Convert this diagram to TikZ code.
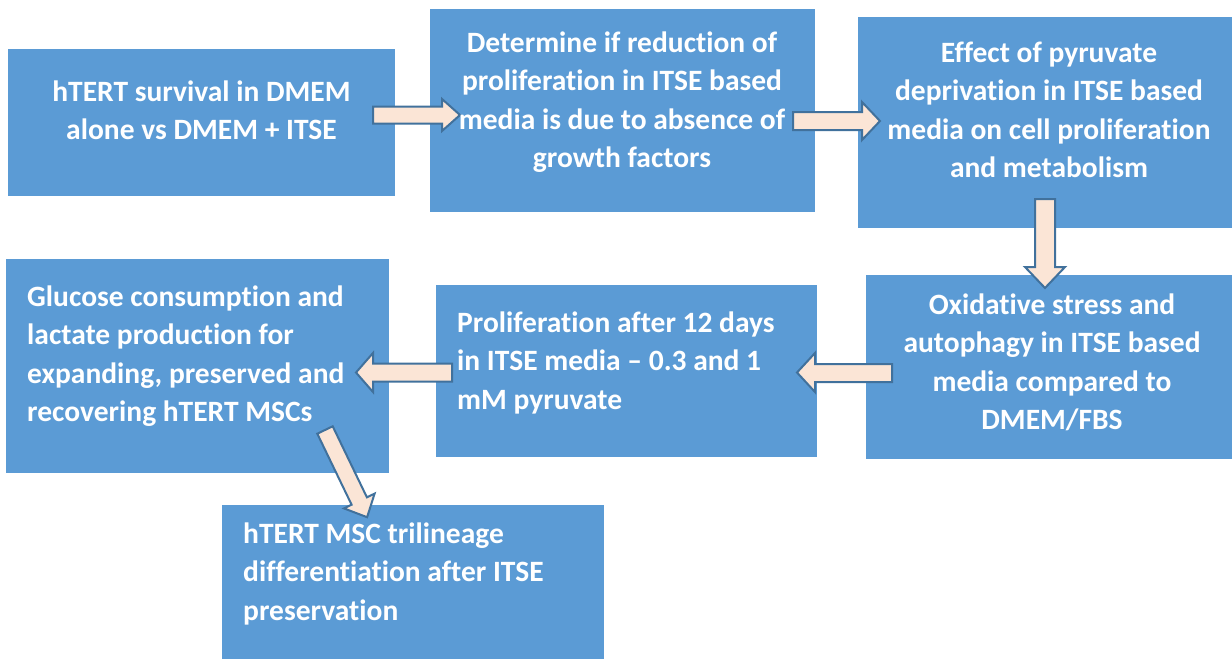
\documentclass[tikz,border=0pt]{standalone}
\usepackage{fontspec}
\setmainfont{Carlito}[Ligatures={TeX,NoCommon}]
\definecolor{boxblue}{HTML}{5B9BD5}
\definecolor{peach}{HTML}{FBE5D6}
\definecolor{edgeblue}{HTML}{41719C}
\tikzset{
  box/.style={fill=boxblue, draw=none, inner sep=0pt, outer sep=0pt, rectangle},
  txt/.style={text=white, font=\fontsize{29.5}{38.5}\selectfont\bfseries, inner sep=0pt, anchor=base},
  barrow/.style={fill=peach, draw=edgeblue, line width=2pt, line join=miter}
}
\begin{document}
\begin{tikzpicture}[x=1pt,y=-1pt]
\useasboundingbox (0,0) rectangle (1232,659);
% boxes
\node[box, minimum width=387pt, minimum height=147pt] (b1) at (201.5,122.5) {};
\node[box, minimum width=385pt, minimum height=203pt] (b2) at (622.5,110.5) {};
\node[box, minimum width=374pt, minimum height=211pt] (b3) at (1045,122.5) {};
\node[box, minimum width=366pt, minimum height=184pt] (b4) at (1049,367) {};
\node[box, minimum width=381pt, minimum height=172pt] (b5) at (626.5,371) {};
\node[box, minimum width=383pt, minimum height=214pt] (b6) at (197.5,366) {};
\node[box, minimum width=382pt, minimum height=154pt] (b7) at (413,582) {};
% block arrows
\draw[barrow] (373,106.5) -- (442,106.5) -- (442,99) -- (460,115) -- (442,131) -- (442,123.5) -- (373,123.5) -- cycle;
\draw[barrow] (793,112) -- (862,112) -- (862,102) -- (880,121) -- (862,140) -- (862,130) -- (793,130) -- cycle;
\draw[barrow] (1035,199) -- (1055,199) -- (1055,267) -- (1065,267) -- (1045,288) -- (1025,267) -- (1035,267) -- cycle;
\draw[barrow] (892,364) -- (815,364) -- (815,353) -- (797,372.5) -- (815,392) -- (815,382) -- (892,382) -- cycle;
\draw[barrow] (452,363.5) -- (373,363.5) -- (373,353) -- (356,372.5) -- (373,392) -- (373,381.5) -- (452,381.5) -- cycle;
\draw[barrow] (332.7,426.3) -- (366.9,497.3) -- (374.6,493.6) -- (367.1,517.2) -- (344.0,508.4) -- (351.6,504.7) -- (317.3,433.7) -- cycle;
% texts
\node[txt] (t1) at (201.5,101) {\begin{tabular}[t]{@{}c@{}}hTERT survival in DMEM\\alone vs DMEM + ITSE\end{tabular}};
\node[txt] (t2) at (622,52) {\begin{tabular}[t]{@{}c@{}}Determine if reduction of\\proliferation in ITSE based\\media is due to absence of\\growth factors\end{tabular}};
\node[txt] (t3) at (1049,62) {\begin{tabular}[t]{@{}c@{}}Effect of pyruvate\\deprivation in ITSE based\\media on cell proliferation\\and metabolism\end{tabular}};
\node[txt] (t4) at (1052,314) {\begin{tabular}[t]{@{}c@{}}Oxidative stress and\\autophagy in ITSE based\\media compared to\\DMEM/FBS\end{tabular}};
\node[txt, anchor=base west] (t5) at (457,332) {\begin{tabular}[t]{@{}l@{}}Proliferation after 12 days\\in ITSE media – 0.3 and 1\\mM pyruvate\end{tabular}};
\node[txt, anchor=base west] (t6) at (27,306) {\begin{tabular}[t]{@{}l@{}}Glucose consumption and\\lactate production for\\expanding, preserved and\\recovering hTERT MSCs\end{tabular}};
\node[txt, anchor=base west] (t7) at (243,543) {\begin{tabular}[t]{@{}l@{}}hTERT MSC trilineage\\differentiation after ITSE\\preservation\end{tabular}};
\end{tikzpicture}
\end{document}
